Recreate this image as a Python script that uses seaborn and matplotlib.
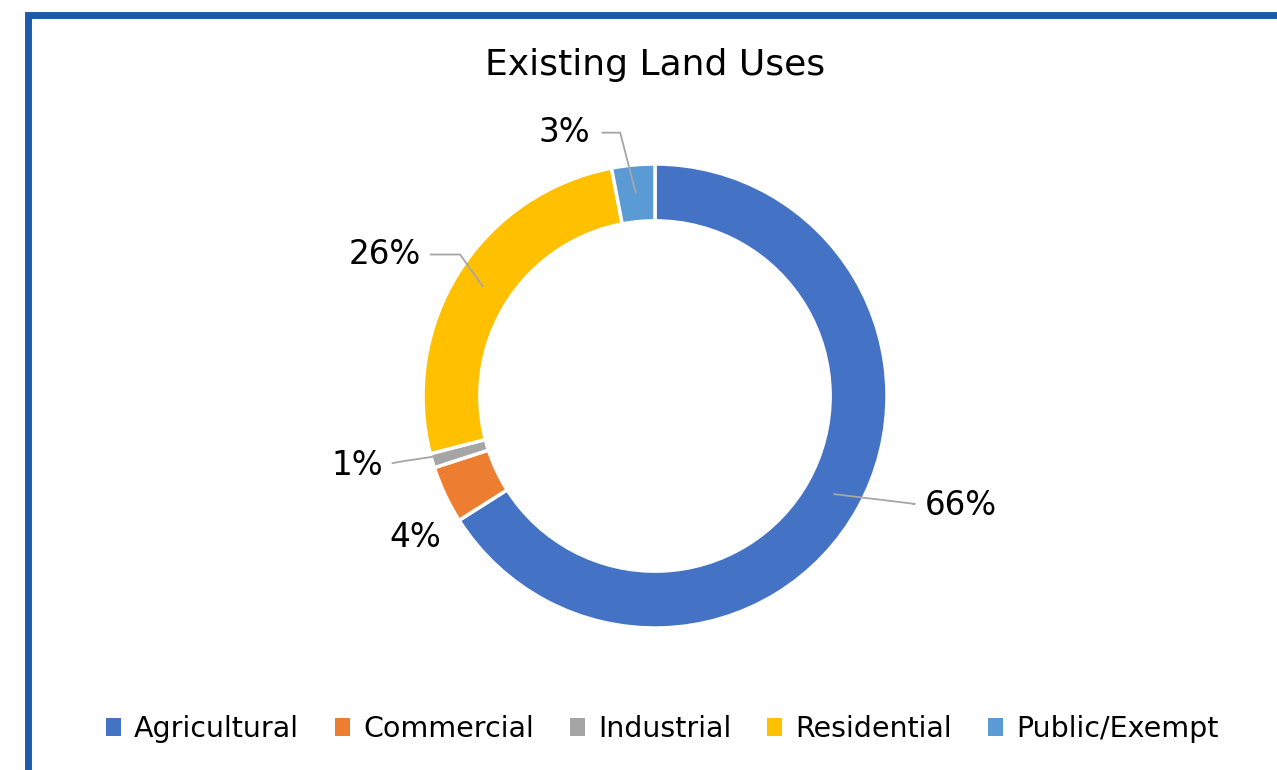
import numpy as np
import matplotlib
matplotlib.use("Agg")
import matplotlib.pyplot as plt
from matplotlib.patches import Patch, Rectangle
import seaborn as sns

categories = ["Agricultural", "Commercial", "Industrial", "Residential", "Public/Exempt"]
values = [66, 4, 1, 26, 3]
colors = ["#4472C4", "#ED7D31", "#A5A5A5", "#FFC000", "#5B9BD5"]
title = "Existing Land Uses"

# label text positions (data units, radius 1 = outer ring) and leader elbow points
label_pos = [(1.32, -0.47), (-1.035, -0.61), (-1.285, -0.30), (-1.165, 0.61), (-0.39, 1.135)]
leader_elbow = [(1.12, -0.465), None, (-1.08, -0.28), (-0.84, 0.61), (-0.15, 1.135)]
leader_end = [(1.11, -0.465), None, (-1.135, -0.29), (-0.97, 0.61), (-0.23, 1.135)]

sns.set_theme(style="white")
plt.rcParams["font.family"] = ["DejaVu Sans"]
plt.rcParams["text.color"] = "black"

W, H = 1277, 770
fig = plt.figure(figsize=(W / 100, H / 100), dpi=100)
ax = fig.add_axes([0, 0, 1, 1])
ax.set_axis_off()

cx, cy, R = 655, 396, 232.0

ring_w = 0.245
wedges, _ = ax.pie(values, colors=colors, startangle=90, counterclock=False,
                   radius=1.0, wedgeprops=dict(width=ring_w, edgecolor="white", linewidth=2.5))
ax.set_aspect("auto")
ax.set_xlim(-cx / R, (W - cx) / R)
ax.set_ylim(-(H - cy) / R, cy / R)

total = sum(values)
cum = 0
for i, v in enumerate(values):
    mid = cum + v / 2
    cum += v
    ang = np.deg2rad(90 - 360 * mid / total)
    rmid = 1 - ring_w / 2
    px, py = rmid * np.cos(ang), rmid * np.sin(ang)
    if leader_elbow[i] is not None:
        ex, ey = leader_elbow[i]
        lx, ly = leader_end[i]
        ax.plot([px, ex, lx], [py, ey, ly], color="#A6A6A6", lw=1.3, solid_capstyle="butt")
    tx, ty = label_pos[i]
    ax.text(tx, ty, f"{v}%", ha="center", va="center", fontsize=23.5, color="black")

fig.text(655 / W, 1 - 65 / H, title, ha="center", va="center", fontsize=26, color="black")

handles = [Patch(facecolor=c, edgecolor="none") for c in colors]
leg = fig.legend(handles, categories, loc="center", bbox_to_anchor=(662 / W, 1 - 729 / H),
                 ncol=5, frameon=False, fontsize=20.5, handlelength=0.55, handleheight=0.55,
                 handletextpad=0.45, columnspacing=1.25)
for t in leg.get_texts():
    t.set_color("black")

border = Rectangle((28 / W, -0.1), 1.2, (1 - 15 / H) + 0.1, transform=fig.transFigure,
                   fill=False, edgecolor="#1E5AAA", linewidth=5, clip_on=False)
fig.patches.append(border)

fig.savefig("out.png", dpi=100, facecolor="white")
